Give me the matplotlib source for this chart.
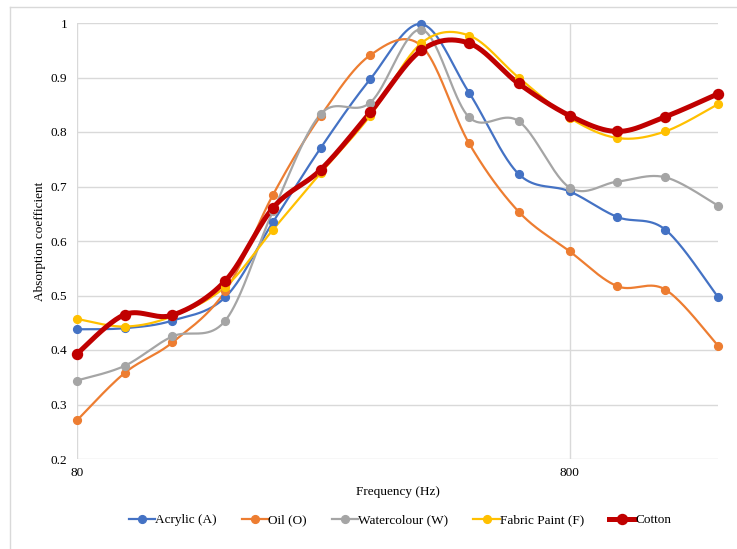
import numpy as np
import matplotlib
matplotlib.use("Agg")
import matplotlib.pyplot as plt
from matplotlib.lines import Line2D

# One-third octave band centre frequencies (Hz)
freqs = [80, 100, 125, 160, 200, 250, 315, 400, 500, 630, 800, 1000, 1250, 1600]

acrylic = [0.438, 0.440, 0.454, 0.497, 0.635, 0.771, 0.897, 0.998, 0.872, 0.723,
           0.691, 0.644, 0.621, 0.497]
oil = [0.271, 0.358, 0.414, 0.508, 0.685, 0.830, 0.941, 0.958, 0.779, 0.654,
       0.581, 0.517, 0.511, 0.408]
watercolour = [0.344, 0.371, 0.425, 0.454, 0.655, 0.833, 0.854, 0.988, 0.827, 0.820,
               0.698, 0.709, 0.717, 0.665]
fabric_paint = [0.457, 0.443, 0.462, 0.516, 0.621, 0.725, 0.830, 0.963, 0.977, 0.900,
                0.826, 0.789, 0.801, 0.851]
cotton = [0.393, 0.465, 0.464, 0.527, 0.661, 0.731, 0.836, 0.950, 0.963, 0.889,
          0.830, 0.801, 0.828, 0.870]

series_names = ["Acrylic (A)", "Oil (O)", "Watercolour (W)", "Fabric Paint (F)", "Cotton"]
series_values = [acrylic, oil, watercolour, fabric_paint, cotton]
series_colors = ["#4472C4", "#ED7D31", "#A5A5A5", "#FFC000", "#C00000"]
line_widths = [1.6, 1.6, 1.6, 1.6, 3.6]
marker_sizes = [5.6, 5.6, 5.6, 5.6, 7.2]

y_ticks = [0.2, 0.3, 0.4, 0.5, 0.6, 0.7, 0.8, 0.9, 1.0]


def smooth_curve(xs, ys, n=40):
    """Cubic Bezier smoothing (Catmull-Rom style) in log-x space."""
    lx = np.log10(np.asarray(xs, float))
    y = np.asarray(ys, float)
    pts = np.column_stack([lx, y])
    out = []
    for i in range(len(pts) - 1):
        p0 = pts[i - 1] if i > 0 else pts[i]
        p1 = pts[i]
        p2 = pts[i + 1]
        p3 = pts[i + 2] if i + 2 < len(pts) else pts[i + 1]
        c1 = p1 + (p2 - p0) / 6.0
        c2 = p2 - (p3 - p1) / 6.0
        t = np.linspace(0, 1, n)[:, None]
        seg = ((1 - t) ** 3) * p1 + 3 * ((1 - t) ** 2) * t * c1 \
            + 3 * (1 - t) * t ** 2 * c2 + t ** 3 * p2
        out.append(seg if i == 0 else seg[1:])
    curve = np.vstack(out)
    return 10 ** curve[:, 0], curve[:, 1]


plt.rcParams["font.family"] = ["Liberation Serif", "DejaVu Serif"]

fig = plt.figure(figsize=(7.37, 5.49), dpi=100)
W, H = 737, 549
ax = fig.add_axes([77 / W, 1 - 459 / H, (718 - 77) / W, (459 - 23) / H])

# Outer chart frame
fig.add_artist(Line2D([10 / W, 1], [1 - 7 / H, 1 - 7 / H], color="#d9d9d9", lw=1.0))
fig.add_artist(Line2D([10 / W, 10 / W], [0, 1 - 7 / H], color="#d9d9d9", lw=1.0))

for name, vals, col, lw, ms in zip(series_names, series_values, series_colors,
                                   line_widths, marker_sizes):
    sx, sy = smooth_curve(freqs, vals)
    ax.plot(sx, sy, color=col, lw=lw, solid_capstyle="round", zorder=3, clip_on=False)
    ax.plot(freqs, vals, linestyle="none", marker="o", ms=ms, color=col, zorder=4,
            clip_on=False)

ax.set_xscale("log")
ax.set_xlim(80, 1600)
ax.set_ylim(0.2, 1.0)
ax.set_xticks([80, 800])
ax.set_xticklabels(["80", "800"])
ax.xaxis.set_minor_locator(matplotlib.ticker.NullLocator())
ax.set_yticks(y_ticks)
ax.set_yticklabels(["0.2", "0.3", "0.4", "0.5", "0.6", "0.7", "0.8", "0.9", "1"])
ax.tick_params(length=0, labelsize=9.5, colors="#000000", pad=7)
ax.tick_params(axis="x", pad=6)

ax.grid(True, which="major", color="#d9d9d9", lw=1.0, zorder=0)
for s in ax.spines.values():
    s.set_visible(False)
ax.set_axisbelow(True)

ax.set_xlabel("Frequency (Hz)", fontsize=9.5, labelpad=5)
ax.set_ylabel("Absorption coefficient", fontsize=9.5, labelpad=3)

handles = [Line2D([0], [0], color=c, lw=lw, marker="o", ms=ms)
           for c, lw, ms in zip(series_colors, line_widths, marker_sizes)]
fig.legend(handles, series_names, loc="center", bbox_to_anchor=(400 / W, 1 - 520 / H),
           ncol=5, frameon=False, fontsize=9.5, handlelength=2.0, handletextpad=0.0,
           columnspacing=1.9)

fig.savefig("out.png", dpi=100, facecolor="white")
